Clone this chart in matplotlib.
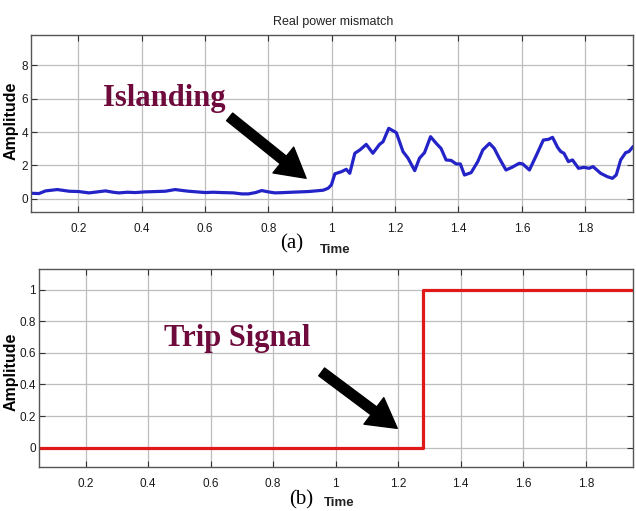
import matplotlib
matplotlib.use("Agg")
import matplotlib.pyplot as plt

# ---------------- data ----------------
pm_time = [0.05, 0.076, 0.097, 0.134, 0.171, 0.202, 0.234, 0.26, 0.286, 0.31,
           0.328, 0.355, 0.381, 0.41, 0.444, 0.475, 0.506, 0.53, 0.548, 0.575,
           0.601, 0.625, 0.653, 0.69, 0.716, 0.737, 0.76, 0.779, 0.80, 0.821,
           0.85, 0.873, 0.9, 0.926, 0.95, 0.973, 0.989, 0.999, 1.01, 1.031,
           1.046, 1.057, 1.073, 1.089, 1.109, 1.130, 1.151, 1.162, 1.180, 1.204,
           1.225, 1.241, 1.262, 1.277, 1.293, 1.312, 1.330, 1.345, 1.361, 1.377,
           1.393, 1.406, 1.419, 1.440, 1.461, 1.477, 1.498, 1.513, 1.529, 1.550,
           1.569, 1.592, 1.603, 1.624, 1.644, 1.668, 1.684, 1.697, 1.713, 1.723,
           1.733, 1.747, 1.760, 1.779, 1.797, 1.812, 1.825, 1.849, 1.870, 1.886,
           1.898, 1.912, 1.928, 1.938, 1.95]
pm_value = [0.34, 0.32, 0.48, 0.56, 0.46, 0.44, 0.36, 0.42, 0.48, 0.40,
            0.36, 0.40, 0.38, 0.42, 0.44, 0.46, 0.56, 0.50, 0.46, 0.42,
            0.38, 0.40, 0.38, 0.36, 0.30, 0.30, 0.38, 0.50, 0.42, 0.36,
            0.38, 0.40, 0.42, 0.44, 0.48, 0.52, 0.64, 0.84, 1.50, 1.63,
            1.77, 1.53, 2.73, 2.93, 3.26, 2.73, 3.26, 3.42, 4.22, 3.96,
            2.83, 2.43, 1.69, 2.43, 2.77, 3.72, 3.32, 3.02, 2.33, 2.30,
            2.09, 2.09, 1.43, 1.57, 2.23, 2.93, 3.32, 3.02, 2.43, 1.73,
            1.89, 2.13, 2.09, 1.73, 2.53, 3.52, 3.56, 3.68, 3.08, 2.83,
            2.73, 2.23, 2.33, 1.83, 1.89, 1.83, 1.93, 1.53, 1.33, 1.23,
            1.43, 2.33, 2.77, 2.83, 3.10]

trip_time = [0.05, 1.28, 1.28, 1.95]
trip_value = [0, 0, 1, 1]

x_ticks = [0.2, 0.4, 0.6, 0.8, 1.0, 1.2, 1.4, 1.6, 1.8]
x_ticklabels = ['0.2', '0.4', '0.6', '0.8', '1', '1.2', '1.4', '1.6', '1.8']
ya_ticks = [0, 2, 4, 6, 8]
ya_ticklabels = ['0', '2', '4', '6', '8']
yb_ticks = [0, 0.2, 0.4, 0.6, 0.8, 1.0]
yb_ticklabels = ['0', '0.2', '0.4', '0.6', '0.8', '1']

# ---------------- style ----------------
W, H = 636, 511
sans = ['Liberation Sans', 'DejaVu Sans']
serif = ['Liberation Serif', 'DejaVu Serif']
maroon = '#6e0a3c'

fig = plt.figure(figsize=(W / 100, H / 100), dpi=100)

def px_axes(l, t, r, b):
    return fig.add_axes([l / W, 1 - b / H, (r - l) / W, (b - t) / H])

def style(ax, yt, ytl, ylim):
    ax.set_xlim(0.05, 1.95)
    ax.set_ylim(*ylim)
    ax.set_xticks(x_ticks)
    ax.set_xticklabels(x_ticklabels, family=sans, fontsize=8.5)
    ax.set_yticks(yt)
    ax.set_yticklabels(ytl, family=sans, fontsize=8.5)
    ax.grid(True, color='#bdbdbd', linewidth=0.9)
    ax.tick_params(axis='x', pad=8)
    ax.tick_params(axis='y', pad=2)
    ax.tick_params(direction='in', length=4, width=0.8, top=True, right=True,
                   colors='#333333')
    for lbl in ax.get_xticklabels() + ax.get_yticklabels():
        lbl.set_color('#1a1a1a')
    for s in ax.spines.values():
        s.set_color('#555555')
        s.set_linewidth(1.0)
    ax.set_axisbelow(True)

arrow_style = 'simple,head_length=1.5,head_width=1.7,tail_width=0.5'

# ---- (a) real power mismatch ----
ax1 = px_axes(30.7, 35, 632.7, 212.3)
ax1.plot(pm_time, pm_value, color='#2323c8', linewidth=2.3, solid_joinstyle='round')
style(ax1, ya_ticks, ya_ticklabels, (-0.8, 9.8))
ax1.text(0.473, 6.03, 'Islanding', family=serif, fontweight='bold', fontsize=22,
         color=maroon, ha='center', va='center')
ax1.annotate('', xy=(0.926, 1.13), xytext=(0.671, 5.01),
             arrowprops=dict(arrowstyle=arrow_style, fc='black', ec='black',
                             mutation_scale=14))
fig.text(333 / W, 1 - 22 / H, 'Real power mismatch', family=sans, fontsize=9,
         ha='center', va='center', color='#222222')
fig.text(11 / W, 1 - 121 / H, 'Amplitude', family=sans, fontweight='bold',
         fontsize=11.5, rotation=90, ha='center', va='center')
fig.text(292 / W, 1 - 244 / H, '(a)', family=serif, fontsize=15, ha='center', va='center')
fig.text(335 / W, 1 - 250 / H, 'Time', family=sans, fontweight='bold', fontsize=9.5,
         ha='center', va='center', color='#222222')

# ---- (b) trip signal ----
ax2 = px_axes(38.7, 269, 632.7, 466.7)
ax2.plot(trip_time, trip_value, color='#e01818', linewidth=2.3)
style(ax2, yb_ticks, yb_ticklabels, (-0.12, 1.13))
ax2.text(0.685, 0.693, 'Trip Signal', family=serif, fontweight='bold', fontsize=22,
         color=maroon, ha='center', va='center')
ax2.annotate('', xy=(1.204, 0.112), xytext=(0.948, 0.49),
             arrowprops=dict(arrowstyle=arrow_style, fc='black', ec='black',
                             mutation_scale=14))
fig.text(11 / W, 1 - 372 / H, 'Amplitude', family=sans, fontweight='bold',
         fontsize=11.5, rotation=90, ha='center', va='center')
fig.text(301 / W, 1 - 500 / H, '(b)', family=serif, fontsize=15, ha='center', va='center')
fig.text(339 / W, 1 - 503 / H, 'Time', family=sans, fontweight='bold', fontsize=9.5,
         ha='center', va='center', color='#222222')

fig.savefig('out.png', dpi=100)
